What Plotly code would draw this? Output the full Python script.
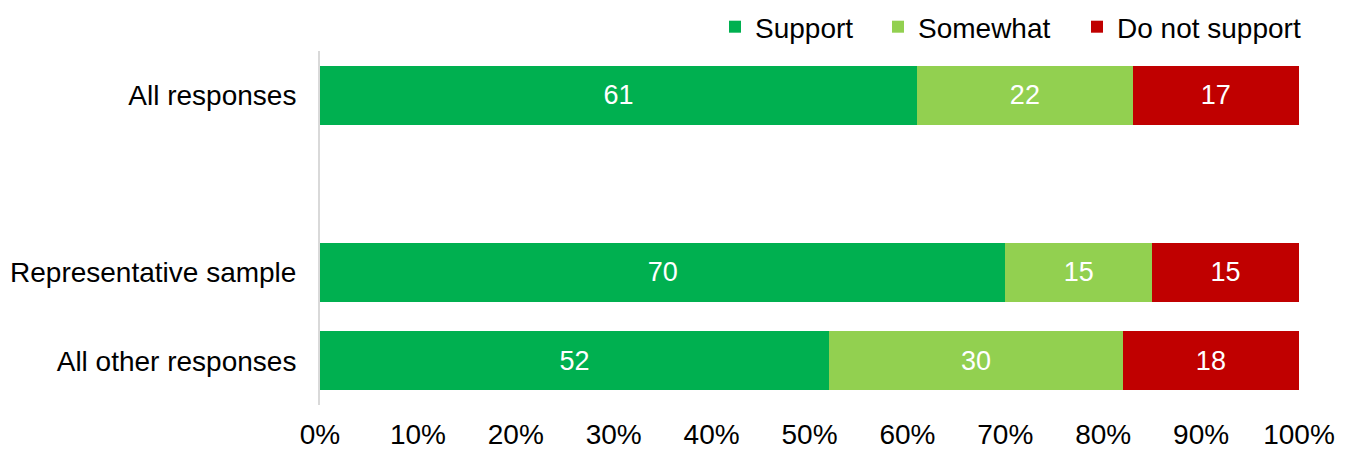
import plotly.graph_objects as go

# Response groups (blank row keeps the gap between the overall figure and the breakdown)
groups = ["All responses", " ", "Representative sample", "All other responses"]
support = [61, None, 70, 52]
somewhat = [22, None, 15, 30]
do_not_support = [17, None, 15, 18]

series = [
    ("Support", support, "#00B050"),
    ("Somewhat", somewhat, "#92D050"),
    ("Do not support", do_not_support, "#C00000"),
]

pct_ticks = [0, 10, 20, 30, 40, 50, 60, 70, 80, 90, 100]
pct_labels = ["0%", "10%", "20%", "30%", "40%", "50%", "60%", "70%", "80%", "90%", "100%"]

FONT = "Liberation Sans, Arial, sans-serif"
W, H = 1348, 452
M_L, M_R, M_T, M_B = 320, 49, 51, 47
PLOT_W = W - M_L - M_R

# one legend per series so each key can be placed on its own
legend_ids = ["legend", "legend2", "legend3"]
legend_left_px = [715, 878, 1077]

fig = go.Figure()
for (name, values, color), lid in zip(series, legend_ids):
    fig.add_trace(go.Bar(
        name=name,
        y=groups,
        x=values,
        orientation="h",
        marker=dict(color=color, line=dict(width=0)),
        text=["" if v is None else str(v) for v in values],
        texttemplate="%{text}",
        textposition="inside",
        insidetextanchor="middle",
        textfont=dict(color="white", size=27, family=FONT),
        hoverinfo="skip",
        legend=lid,
    ))

legend_style = dict(
    orientation="h",
    xanchor="left",
    xref="paper",
    y=1 - 27 / H,
    yanchor="middle",
    yref="container",
    font=dict(size=28, family=FONT),
    bgcolor="rgba(0,0,0,0)",
    itemwidth=30,
)
legends = {
    lid: dict(legend_style, x=(px - M_L) / PLOT_W)
    for lid, px in zip(legend_ids, legend_left_px)
}

fig.update_layout(
    barmode="stack",
    bargap=0.33,
    width=W,
    height=H,
    margin=dict(l=M_L, r=M_R, t=M_T, b=M_B, autoexpand=False),
    paper_bgcolor="white",
    plot_bgcolor="white",
    font=dict(family=FONT, size=28, color="#000000"),
    showlegend=True,
    xaxis=dict(
        range=[0, 100],
        tickvals=pct_ticks,
        ticktext=pct_labels,
        showgrid=False,
        zeroline=False,
        showline=False,
        ticks="",
        ticklabelstandoff=10,
        tickfont=dict(size=28, family=FONT),
        automargin=False,
        fixedrange=True,
    ),
    yaxis=dict(
        type="category",
        categoryorder="array",
        categoryarray=groups,
        autorange="reversed",
        showgrid=False,
        zeroline=False,
        showline=True,
        linecolor="#D9D9D9",
        linewidth=2,
        ticks="",
        ticklabelstandoff=16,
        tickfont=dict(size=28, family=FONT),
        automargin=False,
        fixedrange=True,
    ),
    **legends,
)

fig.write_html("out.html")
